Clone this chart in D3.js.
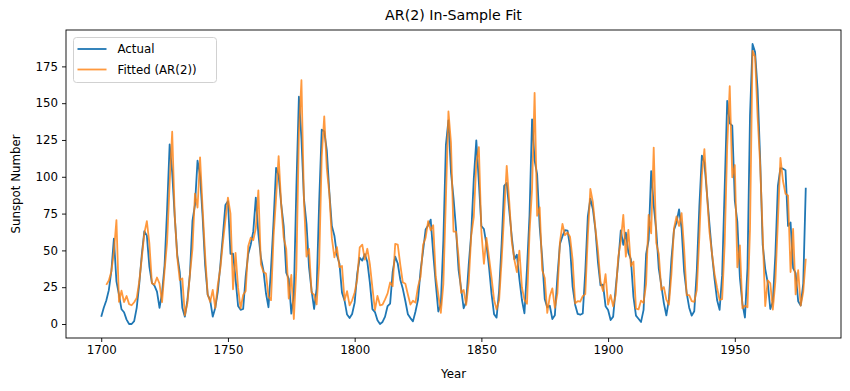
<!DOCTYPE html>
<html>
<head>
<meta charset="utf-8">
<script src="https://cdn.jsdelivr.net/npm/d3@7"></script>
<style>
  body { margin: 0; background: #fff; }
  svg { display: block; font-family: "DejaVu Sans", sans-serif; }
</style>
</head>
<body>
<div id="chart"></div>
<script>
// yearly sunspot numbers, 1700 - 1978
var startYear = 1700;
var actual = [
  5.0, 11.0, 16.0, 23.0, 36.0, 58.0, 29.0, 20.0, 10.0, 8.0,
  3.0, 0.0, 0.0, 2.0, 11.0, 27.0, 47.0, 63.0, 60.0, 39.0,
  28.0, 26.0, 22.0, 11.0, 21.0, 40.0, 78.0, 122.0, 103.0, 73.0,
  47.0, 35.0, 11.0, 5.0, 16.0, 34.0, 70.0, 81.0, 111.0, 101.0,
  73.0, 40.0, 20.0, 16.0, 5.0, 11.0, 22.0, 40.0, 60.0, 80.9,
  83.4, 47.7, 47.8, 30.7, 12.2, 9.6, 10.2, 32.4, 47.6, 54.0,
  62.9, 85.9, 61.2, 45.1, 36.4, 20.9, 11.4, 37.8, 69.8, 106.1,
  100.8, 81.6, 66.5, 34.8, 30.6, 7.0, 19.8, 92.5, 154.4, 125.9,
  84.8, 68.1, 38.5, 22.8, 10.2, 24.1, 82.9, 132.0, 130.9, 118.1,
  89.9, 66.6, 60.0, 46.9, 41.0, 21.3, 16.0, 6.4, 4.1, 6.8,
  14.5, 34.0, 45.0, 43.1, 47.5, 42.2, 28.1, 10.1, 8.1, 2.5,
  0.0, 1.4, 5.0, 12.2, 13.9, 35.4, 45.8, 41.1, 30.1, 23.9,
  15.6, 6.6, 4.0, 1.8, 8.5, 16.6, 36.3, 49.6, 64.2, 67.0,
  70.9, 47.8, 27.5, 8.5, 13.2, 56.9, 121.5, 138.3, 103.2, 85.7,
  64.6, 36.7, 24.2, 10.7, 15.0, 40.1, 61.5, 98.5, 124.7, 96.3,
  66.6, 64.5, 54.1, 39.0, 20.6, 6.7, 4.3, 22.7, 54.8, 93.8,
  95.8, 77.2, 59.1, 44.0, 47.0, 30.5, 16.3, 7.3, 37.6, 74.0,
  139.0, 111.2, 101.6, 66.2, 44.7, 17.0, 11.3, 12.4, 3.4, 6.0,
  32.3, 54.3, 59.7, 63.7, 63.5, 52.2, 25.4, 13.1, 6.8, 6.3,
  7.1, 35.6, 73.0, 85.1, 78.0, 64.0, 41.8, 26.2, 26.7, 12.1,
  9.5, 2.7, 5.0, 24.4, 42.0, 63.5, 53.8, 62.0, 48.5, 43.9,
  18.6, 5.7, 3.6, 1.4, 9.6, 47.4, 57.1, 103.9, 80.6, 63.6,
  37.6, 26.1, 14.2, 5.8, 16.7, 44.3, 63.9, 69.0, 77.8, 64.9,
  35.7, 21.2, 11.1, 5.7, 8.7, 36.1, 79.7, 114.4, 109.6, 88.8,
  67.8, 47.5, 30.6, 16.3, 9.6, 33.2, 92.6, 151.6, 136.3, 134.7,
  83.9, 69.4, 31.5, 13.9, 4.4, 38.0, 141.7, 190.2, 184.8, 159.0,
  112.3, 53.9, 37.5, 27.9, 10.2, 15.1, 47.0, 93.8, 105.9, 105.5,
  104.5, 66.6, 68.9, 38.0, 34.5, 15.5, 12.6, 27.5, 92.5
];

// AR(2) fitted values, first one is 1702
var fitStartYear = 1702;
var fitted = [
  26.6, 29.5, 35.7, 49.0, 70.6, 15.1, 22.6, 14.9,
  19.0, 13.5, 12.7, 14.8, 17.6, 28.7, 44.7, 61.5, 69.9, 54.7,
  27.6, 26.8, 31.6, 27.4, 14.9, 36.4, 55.9, 95.6, 130.6, 73.8,
  45.2, 29.8, 31.0, 5.9, 14.2, 33.6, 51.0, 88.6, 79.1, 113.2,
  78.6, 46.6, 20.0, 15.0, 23.2, 10.7, 26.6, 37.8, 55.2, 70.6,
  85.9, 74.9, 23.6, 48.3, 24.5, 10.6, 19.7, 22.4, 52.8, 58.6,
  57.0, 65.0, 90.8, 40.6, 35.3, 34.3, 18.7, 16.2, 59.5, 85.7,
  114.1, 81.7, 58.7, 50.9, 17.3, 33.3, 3.4, 37.5, 129.7, 165.6,
  83.3, 45.8, 51.0, 21.3, 19.9, 13.3, 41.3, 113.4, 141.1, 105.7,
  88.6, 58.3, 45.3, 52.2, 38.6, 39.4, 16.1, 22.3, 12.7, 16.1,
  21.4, 30.3, 52.1, 53.9, 43.7, 51.1, 40.7, 24.7, 9.5, 19.1,
  12.7, 13.1, 16.7, 20.8, 28.3, 25.7, 54.4, 54.0, 40.3, 28.3,
  27.3, 20.0, 13.2, 15.8, 14.5, 25.4, 32.0, 53.8, 58.7, 69.8,
  63.6, 67.1, 32.3, 20.0, 7.6, 27.3, 84.8, 144.4, 123.2, 62.8,
  62.7, 45.5, 21.2, 23.1, 13.0, 28.3, 60.2, 72.6, 109.3, 120.2,
  62.6, 40.9, 58.5, 45.5, 31.7, 16.5, 9.9, 16.2, 43.4, 75.3,
  107.4, 83.2, 56.0, 43.7, 35.2, 49.8, 24.8, 16.4, 13.7, 62.0,
  91.7, 157.0, 73.5, 79.3, 36.7, 31.3, 7.6, 18.8, 24.2, 11.0,
  20.8, 55.6, 68.0, 60.3, 62.2, 59.1, 43.5, 14.1, 15.5, 15.2,
  18.9, 20.3, 59.4, 91.7, 82.7, 64.5, 49.9, 28.7, 22.4, 33.8,
  13.2, 19.7, 12.0, 19.9, 45.3, 56.3, 74.1, 45.8, 63.9, 39.4,
  42.4, 10.4, 9.9, 15.9, 14.3, 27.2, 74.1, 61.5, 119.8, 55.1,
  47.6, 23.2, 25.1, 16.5, 13.1, 34.0, 64.9, 73.1, 66.6, 75.3,
  51.3, 19.6, 19.6, 15.6, 15.1, 23.0, 59.0, 100.7, 118.8, 88.2,
  62.6, 47.8, 34.1, 24.6, 16.3, 16.9, 54.3, 120.6, 161.6, 99.7,
  108.0, 38.5, 53.4, 10.7, 12.4, 11.3, 64.6, 185.5, 181.4, 140.4,
  108.3, 61.2, 12.2, 29.7, 27.7, 9.7, 28.8, 69.7, 112.8, 97.3,
  88.4, 87.3, 35.3, 64.6, 20.1, 36.5, 12.5, 21.6, 44.3
];

var xTicks = [1700, 1750, 1800, 1850, 1900, 1950];
var yTicks = [0, 25, 50, 75, 100, 125, 150, 175];
var seriesNames = ["Actual", "Fitted (AR(2))"];
var seriesColors = ["#1f77b4", "#ff7f0e"];

var width = 850, height = 391;
var margin = {top: 30, left: 66, bottom: 53, right: 9};
var plotW = width - margin.left - margin.right;
var plotH = height - margin.top - margin.bottom;

var actualPts = actual.map(function(v, i) { return {year: startYear + i, value: v}; });
var fittedPts = fitted.map(function(v, i) { return {year: fitStartYear + i, value: v}; });

// matplotlib style 5% padding
var xMin = startYear, xMax = startYear + actual.length - 1;
var yMax = d3.max(actual.concat(fitted)), yMin = Math.min(0, d3.min(actual.concat(fitted)));
var xPad = (xMax - xMin) * 0.05, yPad = (yMax - yMin) * 0.05;

var x = d3.scaleLinear().domain([xMin - xPad, xMax + xPad]).range([0, plotW]);
var y = d3.scaleLinear().domain([yMin - yPad, yMax + yPad]).range([plotH, 0]);

var svg = d3.select("#chart").append("svg")
  .attr("width", width)
  .attr("height", height);

var g = svg.append("g").attr("transform", "translate(" + margin.left + "," + margin.top + ")");

var line = d3.line()
  .x(function(d) { return x(d.year); })
  .y(function(d) { return y(d.value); });

g.append("path")
  .datum(actualPts)
  .attr("fill", "none")
  .attr("stroke", seriesColors[0])
  .attr("stroke-width", 1.8)
  .attr("stroke-linejoin", "round")
  .attr("d", line);

g.append("path")
  .datum(fittedPts)
  .attr("fill", "none")
  .attr("stroke", seriesColors[1])
  .attr("stroke-opacity", 0.8)
  .attr("stroke-width", 1.8)
  .attr("stroke-linejoin", "round")
  .attr("d", line);

// axes
var xAxis = g.append("g")
  .attr("transform", "translate(0," + plotH + ")")
  .call(d3.axisBottom(x).tickValues(xTicks).tickFormat(d3.format("d")).tickSize(4).tickPadding(4));
var yAxis = g.append("g")
  .call(d3.axisLeft(y).tickValues(yTicks).tickSize(4).tickPadding(4));

[xAxis, yAxis].forEach(function(a) {
  a.select(".domain").remove();
  a.selectAll("line").attr("stroke", "#000").attr("stroke-width", 0.9);
  a.selectAll("text")
    .attr("fill", "#000")
    .style("font-size", "11.8px")
    .style("font-family", "DejaVu Sans");
});

g.append("rect")
  .attr("width", plotW)
  .attr("height", plotH)
  .attr("fill", "none")
  .attr("stroke", "#000")
  .attr("stroke-width", 0.9);

// titles
svg.append("text")
  .attr("x", margin.left + plotW / 2)
  .attr("y", 20)
  .attr("text-anchor", "middle")
  .style("font-size", "14.2px")
  .text("AR(2) In-Sample Fit");

svg.append("text")
  .attr("x", margin.left + plotW / 2)
  .attr("y", 378)
  .attr("text-anchor", "middle")
  .style("font-size", "11.8px")
  .text("Year");

svg.append("text")
  .attr("transform", "translate(19.5," + (margin.top + plotH / 2) + ") rotate(-90)")
  .attr("text-anchor", "middle")
  .style("font-size", "11.8px")
  .text("Sunspot Number");

// legend
var legend = g.append("g").attr("transform", "translate(7.5,7.5)");
legend.append("rect")
  .attr("width", 143)
  .attr("height", 45)
  .attr("rx", 3)
  .attr("fill", "#fff")
  .attr("fill-opacity", 0.8)
  .attr("stroke", "#ccc")
  .attr("stroke-width", 0.9);

var items = legend.selectAll("g.item")
  .data(seriesNames)
  .enter().append("g")
  .classed("item", true)
  .attr("transform", function(d, i) { return "translate(0," + (11.5 + i * 20.5) + ")"; });

items.append("line")
  .attr("x1", 4)
  .attr("x2", 33)
  .attr("stroke", function(d, i) { return seriesColors[i]; })
  .attr("stroke-opacity", function(d, i) { return i == 1 ? 0.8 : 1; })
  .attr("stroke-width", 1.8);

items.append("text")
  .attr("x", 44)
  .attr("dy", "0.35em")
  .style("font-size", "11.8px")
  .text(function(d) { return d; });
</script>
</body>
</html>
